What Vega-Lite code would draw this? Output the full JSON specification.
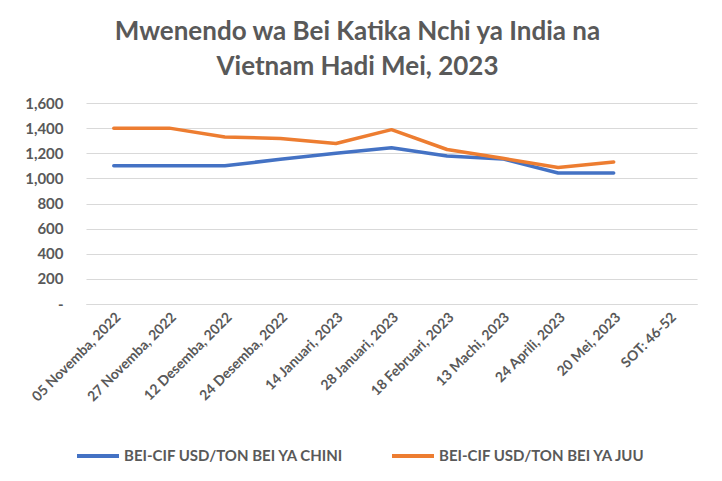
{
  "$schema": "https://vega.github.io/schema/vega-lite/v6.json",
  "width": 611,
  "height": 201,
  "autosize": {"type": "none"},
  "padding": {"left": 86, "top": 103, "right": 25, "bottom": 177},
  "background": "white",
  "title": {
    "text": ["Mwenendo wa Bei Katika Nchi ya India na", "Vietnam Hadi Mei, 2023"],
    "font": "Lato",
    "fontSize": 26,
    "fontWeight": "bold",
    "color": "#595959",
    "anchor": "middle",
    "dx": -34,
    "offset": 16,
    "lineHeight": 35
  },
  "data": {
    "values": [
      {"date": "05 Novemba, 2022", "series": "BEI-CIF USD/TON BEI YA CHINI", "value": 1100},
      {"date": "27 Novemba, 2022", "series": "BEI-CIF USD/TON BEI YA CHINI", "value": 1100},
      {"date": "12 Desemba, 2022", "series": "BEI-CIF USD/TON BEI YA CHINI", "value": 1100},
      {"date": "24 Desemba, 2022", "series": "BEI-CIF USD/TON BEI YA CHINI", "value": 1152},
      {"date": "14 Januari, 2023", "series": "BEI-CIF USD/TON BEI YA CHINI", "value": 1200},
      {"date": "28 Januari, 2023", "series": "BEI-CIF USD/TON BEI YA CHINI", "value": 1243},
      {"date": "18 Februari, 2023", "series": "BEI-CIF USD/TON BEI YA CHINI", "value": 1178},
      {"date": "13 Machi, 2023", "series": "BEI-CIF USD/TON BEI YA CHINI", "value": 1155},
      {"date": "24 Aprili, 2023", "series": "BEI-CIF USD/TON BEI YA CHINI", "value": 1043},
      {"date": "20 Mei, 2023", "series": "BEI-CIF USD/TON BEI YA CHINI", "value": 1043},
      {"date": "05 Novemba, 2022", "series": "BEI-CIF USD/TON BEI YA JUU", "value": 1400},
      {"date": "27 Novemba, 2022", "series": "BEI-CIF USD/TON BEI YA JUU", "value": 1400},
      {"date": "12 Desemba, 2022", "series": "BEI-CIF USD/TON BEI YA JUU", "value": 1330},
      {"date": "24 Desemba, 2022", "series": "BEI-CIF USD/TON BEI YA JUU", "value": 1318},
      {"date": "14 Januari, 2023", "series": "BEI-CIF USD/TON BEI YA JUU", "value": 1278},
      {"date": "28 Januari, 2023", "series": "BEI-CIF USD/TON BEI YA JUU", "value": 1388},
      {"date": "18 Februari, 2023", "series": "BEI-CIF USD/TON BEI YA JUU", "value": 1230},
      {"date": "13 Machi, 2023", "series": "BEI-CIF USD/TON BEI YA JUU", "value": 1160},
      {"date": "24 Aprili, 2023", "series": "BEI-CIF USD/TON BEI YA JUU", "value": 1087},
      {"date": "20 Mei, 2023", "series": "BEI-CIF USD/TON BEI YA JUU", "value": 1131}
    ]
  },
  "mark": {"type": "line", "strokeWidth": 3.5, "strokeCap": "round", "strokeJoin": "round"},
  "encoding": {
    "x": {
      "field": "date",
      "type": "ordinal",
      "sort": null,
      "scale": {
        "domain": ["05 Novemba, 2022", "27 Novemba, 2022", "12 Desemba, 2022", "24 Desemba, 2022", "14 Januari, 2023", "28 Januari, 2023", "18 Februari, 2023", "13 Machi, 2023", "24 Aprili, 2023", "20 Mei, 2023", "SOT: 46-52"],
        "type": "band",
        "paddingInner": 0,
        "paddingOuter": 0
      },
      "axis": {
        "title": null,
        "labelAngle": -45,
        "labelFont": "Lato",
        "labelFontSize": 14,
        "labelFontWeight": "bold",
        "labelColor": "#595959",
        "labelLimit": 300,
        "labelPadding": 6,
        "ticks": false,
        "domainColor": "#D9D9D9",
        "domainWidth": 1,
        "grid": false
      }
    },
    "y": {
      "field": "value",
      "type": "quantitative",
      "scale": {"domain": [0, 1600], "nice": false},
      "axis": {
        "title": null,
        "values": [0, 200, 400, 600, 800, 1000, 1200, 1400, 1600],
        "labelExpr": "datum.value == 0 ? '-' : format(datum.value, ',')",
        "labelFont": "Lato",
        "labelFontSize": 15,
        "labelFontWeight": "bold",
        "labelColor": "#595959",
        "labelPadding": 23,
        "ticks": false,
        "domain": false,
        "gridColor": "#D9D9D9",
        "gridWidth": 1
      }
    },
    "color": {
      "field": "series",
      "type": "nominal",
      "scale": {"range": ["#4472C4", "#ED7D31"]},
      "legend": {
        "title": null,
        "orient": "none",
        "direction": "horizontal",
        "legendX": -11,
        "legendY": 330,
        "symbolType": "stroke",
        "symbolSize": 1764,
        "symbolStrokeWidth": 4,
        "labelFont": "Lato",
        "labelFontSize": 15,
        "labelFontWeight": "bold",
        "labelColor": "#595959",
        "labelLimit": 300,
        "labelOffset": 3,
        "columnPadding": 40
      }
    }
  },
  "config": {"view": {"stroke": null}}
}
